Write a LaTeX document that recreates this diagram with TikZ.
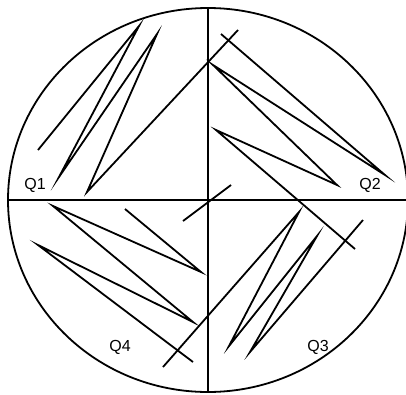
\documentclass[tikz,border=0pt]{standalone}
\usepackage{fontspec}
\setmainfont{Liberation Sans}
\begin{document}
\begin{tikzpicture}[x=1pt,y=-1pt,
  ln/.style={line width=1.8pt,line join=miter,miter limit=20},
  lbl/.style={font=\fontsize{16}{16}\selectfont,inner sep=0pt}]
\useasboundingbox (0,0) rectangle (406,394);
\begin{scope}
\clip (0,0) rectangle (406,394);
\draw[ln] (208,200) ellipse [x radius=200,y radius=192];
\draw[ln] (8,200) -- (408,200);
\end{scope}
\draw[ln] (208,8) -- (208,392);
% center cross
\draw[ln] (183,221) -- (231,185);
% Q1
\draw[ln] (38,150) -- (139,26) -- (59,177) -- (157,34) -- (87,192) -- (238,30);
% Q2
\draw[ln] (221,34) -- (385,175) -- (213,65) -- (337,185) -- (216,130) -- (355,249);
% Q3
\draw[ln] (363,220) -- (250,352) -- (317,236) -- (229,346) -- (299,212) -- (163,367);
% Q4
\draw[ln] (125,209) -- (201,272) -- (53,206) -- (193,322) -- (38,245) -- (193,362);
\node[lbl] (q1) at (35,185) {Q1};
\node[lbl] (q2) at (370,185) {Q2};
\node[lbl] (q3) at (318,347) {Q3};
\node[lbl] (q4) at (120,347) {Q4};
\end{tikzpicture}
\end{document}
